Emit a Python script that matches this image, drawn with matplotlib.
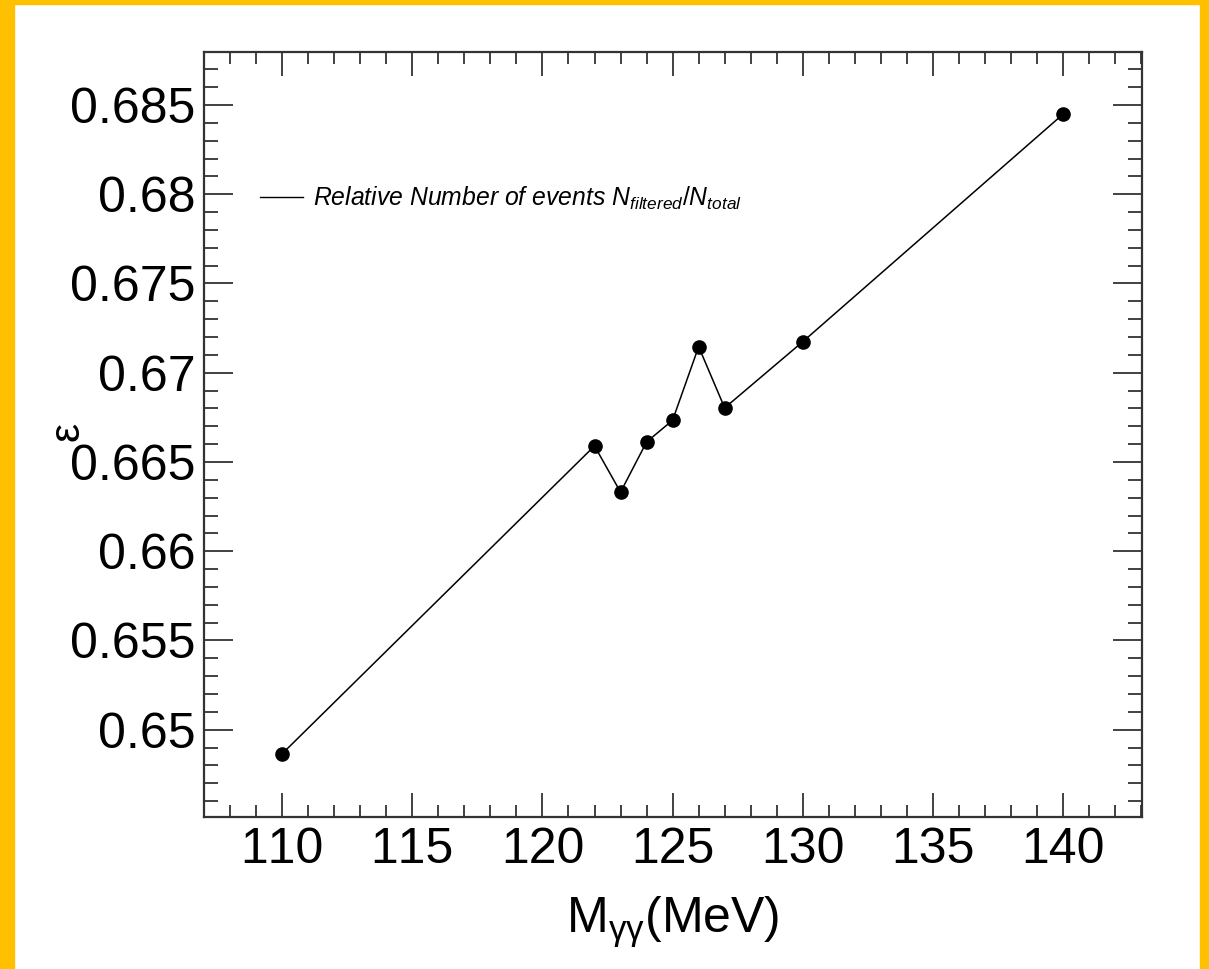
import matplotlib
matplotlib.use("Agg")
import matplotlib.pyplot as plt
from matplotlib.lines import Line2D
from matplotlib.patches import Rectangle
from matplotlib.ticker import MultipleLocator, FuncFormatter

# data
mass = [110, 122, 123, 124, 125, 126, 127, 130, 140]
eff = [0.64865, 0.66590, 0.66331, 0.66612, 0.66734, 0.67146, 0.66803, 0.67174, 0.68449]
xticks = [110, 115, 120, 125, 130, 135, 140]
yticks = [0.65, 0.655, 0.66, 0.665, 0.67, 0.675, 0.68, 0.685]
legend_label = r"Relative Number of events $N_{filtered}/N_{total}$"

plt.rcParams['font.family'] = ['Liberation Sans', 'DejaVu Sans']
plt.rcParams['mathtext.fontset'] = 'custom'
plt.rcParams['mathtext.rm'] = 'Liberation Sans'
plt.rcParams['mathtext.it'] = 'Liberation Sans:italic'
plt.rcParams['mathtext.bf'] = 'Liberation Sans:bold'
plt.rcParams['text.kerning_factor'] = 6

W, H = 1209, 969
fig = plt.figure(figsize=(W / 100, H / 100), dpi=100)
fig.patch.set_facecolor('white')

border = '#FFC000'
fig.patches.append(Rectangle((0, 0), 14 / W, 1, transform=fig.transFigure, color=border, zorder=0))
fig.patches.append(Rectangle((1 - 9 / W, 0), 9 / W, 1, transform=fig.transFigure, color=border, zorder=0))
fig.patches.append(Rectangle((0, 1 - 4 / H), 1, 4 / H, transform=fig.transFigure, color=border, zorder=0))

left, right, top, bottom = 204, 1142, 52, 817
ax = fig.add_axes([left / W, 1 - bottom / H, (right - left) / W, (bottom - top) / H])

ax.plot(mass, eff, color='black', lw=1.1, marker='o', markersize=9.5,
        markerfacecolor='black', markeredgecolor='black')

ax.set_xlim(107, 143.03)
ax.set_ylim(0.64511, 0.68797)
ax.set_xticks(xticks)
ax.set_yticks(yticks)
ax.xaxis.set_minor_locator(MultipleLocator(1))
ax.yaxis.set_minor_locator(MultipleLocator(0.001))
ax.yaxis.set_major_formatter(FuncFormatter(lambda v, p: ('%g' % round(v, 4))))
ax.xaxis.set_major_formatter(FuncFormatter(lambda v, p: '%d' % v))

frame_c = '#333333'
for s in ax.spines.values():
    s.set_linewidth(1.6)
    s.set_color(frame_c)
ax.tick_params(which='both', direction='in', top=True, right=True, color=frame_c, width=1.3)
ax.tick_params(axis='x', which='major', length=17, labelsize=36, pad=7)
ax.tick_params(axis='x', which='minor', length=8.5)
ax.tick_params(axis='y', which='major', length=21, labelsize=36, pad=6)
ax.tick_params(axis='y', which='minor', length=10)

ax.set_xlabel(r"M$_{\mathrm{\gamma\gamma}}$(MeV)", fontsize=36, labelpad=16)
fig.text(67 / W, 1 - 431 / H, "ε", rotation=90, ha='center', va='center', fontsize=31)

h = Line2D([], [], color='black', lw=1.0)
leg = ax.legend([h], [legend_label], loc='center left',
                bbox_to_anchor=((260 - left) / (right - left), 1 - (198 - top) / (bottom - top)),
                frameon=False, borderpad=0, borderaxespad=0, handlelength=1.72,
                handletextpad=0.42, prop={'family': 'Liberation Sans', 'style': 'italic', 'size': 17.8})

fig.savefig('out.png', dpi=100)
